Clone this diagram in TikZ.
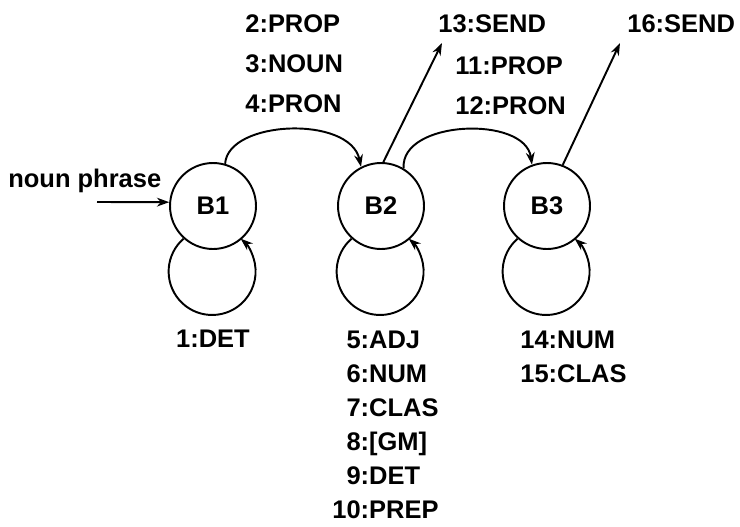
\documentclass[tikz,border=0pt]{standalone}
\usepackage{fontspec}
\setmainfont{Liberation Sans}
\usetikzlibrary{arrows.meta}

\tikzset{
  state/.style={circle, draw, line width=1.1pt, minimum size=1.72cm, inner sep=0pt},
  lbl/.style={font=\bfseries\fontsize{14.5}{22.7}\selectfont, inner sep=0pt},
  lbls/.style={font=\bfseries\fontsize{14.5}{19.4}\selectfont, inner sep=0pt},
  link/.style={line width=1.1pt, -{Stealth[length=7pt,width=5pt]}},
}

\begin{document}
\begin{tikzpicture}[x=0.02cm, y=0.02cm]
  \useasboundingbox (0,0) rectangle (740,-527);

  % states
  \node[state, lbl] (B1) at (213,-206) {B1};
  \node[state, lbl] (B2) at (381,-206) {B2};
  \node[state, lbl] (B3) at (547,-206) {B3};

  % entry
  \node[lbl, anchor=base west] (np) at (8,-187) {noun phrase};
  \coordinate (in) at (97,-202);
  \draw[link] (in) -- (B1.175);

  % self loops
  \foreach \s in {B1,B2,B3}
    \draw[link] (\s.228) arc[start angle=131, end angle=409, radius=0.87cm];

  % transitions
  \draw[link] (B1.74) .. controls (228,-120) and (350,-115) .. (B2.117);
  \draw[link] (B2.59) .. controls (400,-120) and (525,-115) .. (B3.110);

  % exits
  \coordinate (e2) at (442,-43);
  \coordinate (e3) at (620,-43);
  \draw[link] (B2.87) -- (e2);
  \draw[link] (B3.69) -- (e3);

  % arc labels
  \node[lbl, anchor=base west] (t12) at (245,-33)
    {\begin{tabular}[t]{@{}l@{}}2:PROP\\3:NOUN\\4:PRON\end{tabular}};
  \node[lbl, anchor=base west] (t23) at (455,-75)
    {\begin{tabular}[t]{@{}l@{}}11:PROP\\12:PRON\end{tabular}};
  \node[lbl, anchor=base west] (x2) at (438,-33) {13:SEND};
  \node[lbl, anchor=base west] (x3) at (627,-33) {16:SEND};

  % loop labels
  \node[lbl, anchor=base] (r1) at (213,-347) {1:DET};
  \node[lbls, anchor=base west] (r2) at (332,-348)
    {\begin{tabular}[t]{@{}r@{:}l@{}}5&ADJ\\6&NUM\\7&CLAS\\8&[GM]\\9&DET\\10&PREP\end{tabular}};
  \node[lbls, anchor=base west] (r3) at (520,-348)
    {\begin{tabular}[t]{@{}l@{}}14:NUM\\15:CLAS\end{tabular}};
\end{tikzpicture}
\end{document}
